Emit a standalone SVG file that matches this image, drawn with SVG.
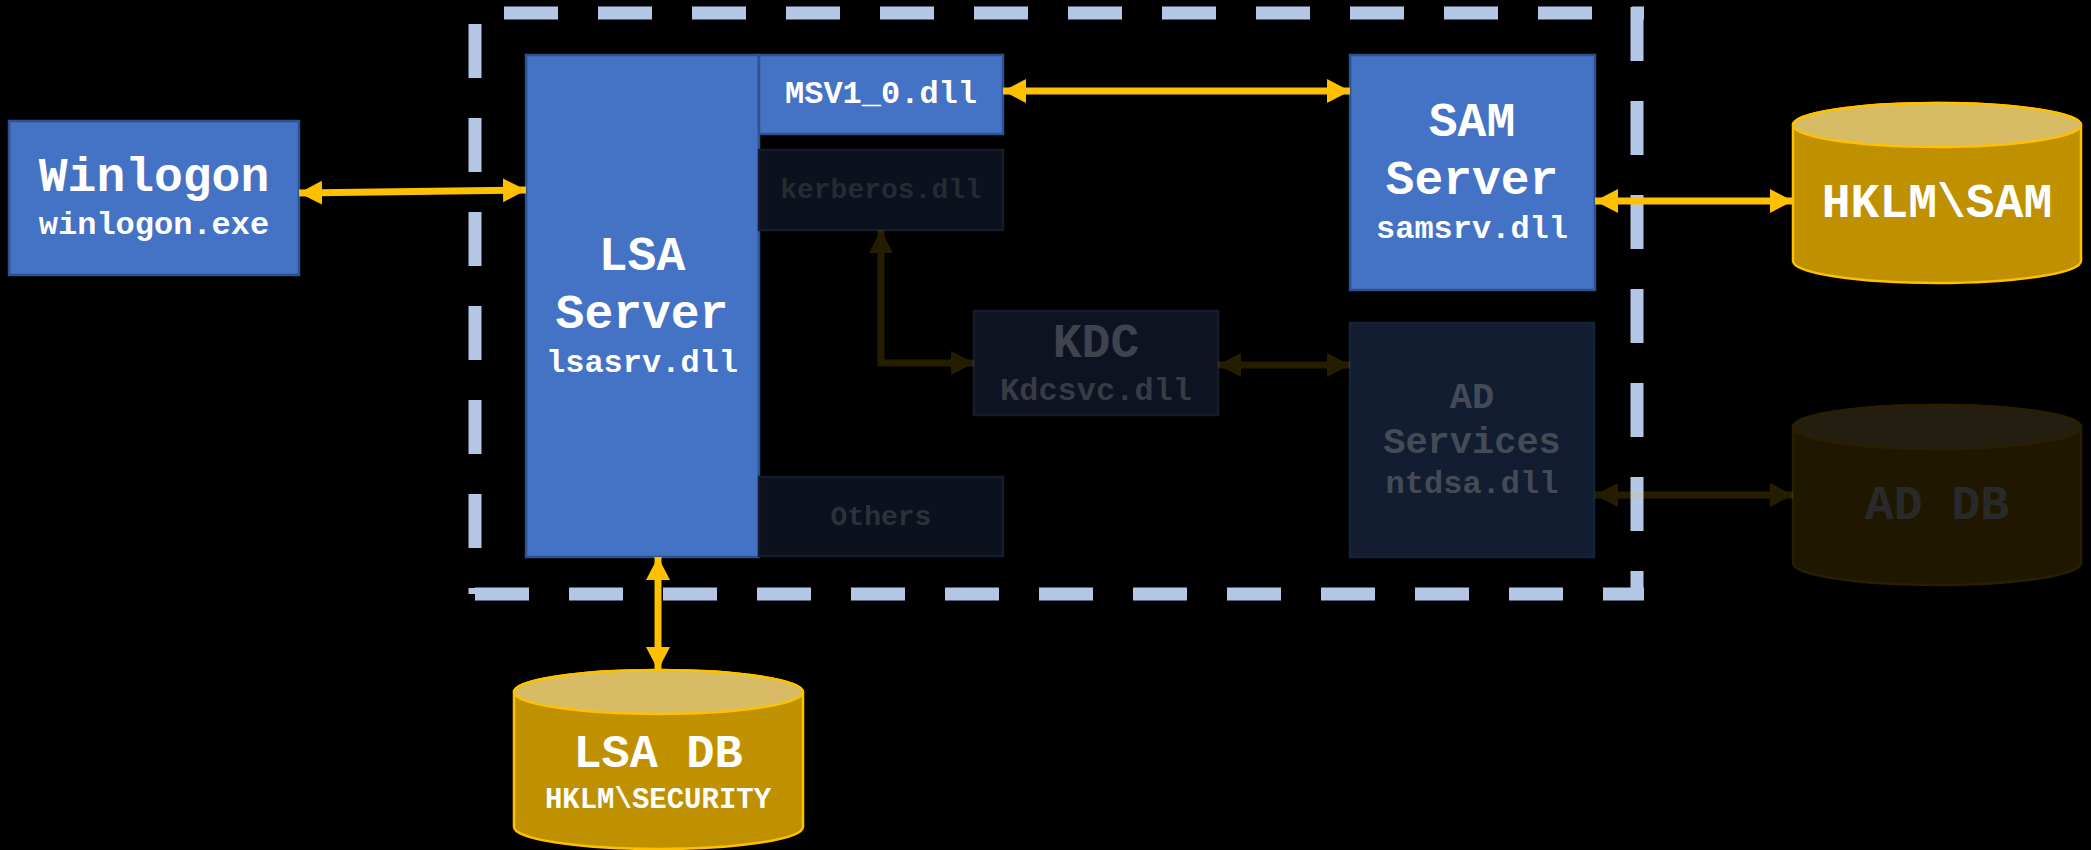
<svg xmlns="http://www.w3.org/2000/svg" width="2091" height="850" viewBox="0 0 2091 850">
<defs>
<style>
.t{font-family:"Liberation Mono","Courier New",monospace;font-weight:bold;fill:#ffffff;text-anchor:middle}
.dim{fill:#3e444e}
.blue{fill:#4472c4;stroke:#2f528f;stroke-width:2.5}
.dark{fill:#0b111d;stroke:#141c2c;stroke-width:2.5}
.border{stroke:#b4c7e7;stroke-width:13;stroke-dasharray:54 40;fill:none}
.arr{stroke:#ffc000;stroke-width:7;fill:none;marker-start:url(#ah);marker-end:url(#ah)}
.cylb{fill:#bf9000;stroke:#ffc000;stroke-width:2.5}
.cylt{fill:#d7bc65;stroke:#ffc000;stroke-width:2.5}
</style>
<marker id="ah" markerUnits="userSpaceOnUse" markerWidth="24" markerHeight="26" refX="23" refY="12" orient="auto-start-reverse" viewBox="0 0 24 24">
<path d="M0,0 L23,12 L0,24 Z" fill="#ffc000"/>
</marker>
</defs>
<rect width="2091" height="850" fill="#000000"/>

<g id="boundary">
<line class="border" x1="504" y1="13" x2="1644" y2="13"/>
<line class="border" x1="1637" y1="7" x2="1637" y2="600"/>
<line class="border" x1="475" y1="594" x2="1644" y2="594"/>
<line class="border" x1="475" y1="24" x2="475" y2="594"/>
</g>

<g id="winlogon">
<rect class="blue" x="9" y="121" width="290" height="154"/>
<text class="t" x="154" y="191" font-size="48">Winlogon</text>
<text class="t" x="154" y="234" font-size="32">winlogon.exe</text>
</g>

<g id="lsa-server">
<rect class="blue" x="526" y="55" width="233" height="502"/>
<text class="t" x="642" y="270" font-size="48">LSA</text>
<text class="t" x="642" y="328" font-size="48">Server</text>
<text class="t" x="642" y="372" font-size="32">lsasrv.dll</text>
</g>

<g id="msv">
<rect class="blue" x="759" y="55" width="244" height="79"/>
<text class="t" x="881" y="103" font-size="32">MSV1_0.dll</text>
</g>

<g id="kerberos">
<rect class="dark" x="759" y="150" width="244" height="80"/>
<text class="t dim" x="881" y="198" font-size="28" style="fill:#262b33">kerberos.dll</text>
</g>

<g id="others">
<rect class="dark" x="759" y="477" width="244" height="79"/>
<text class="t dim" x="881" y="525" font-size="28" style="fill:#2c313a">Others</text>
</g>

<g id="kdc">
<rect class="dark" x="974" y="311" width="244" height="104" style="fill:#0d1321"/>
<text class="t dim" x="1096" y="357" font-size="48">KDC</text>
<text class="t dim" x="1096" y="400" font-size="32" style="fill:#363b44">Kdcsvc.dll</text>
</g>

<g id="sam-server">
<rect class="blue" x="1350" y="55" width="245" height="235"/>
<text class="t" x="1472" y="136" font-size="48">SAM</text>
<text class="t" x="1472" y="194" font-size="48">Server</text>
<text class="t" x="1472" y="238" font-size="32">samsrv.dll</text>
</g>

<g id="ad-services">
<rect class="dark" x="1350" y="323" width="244" height="234" style="fill:#121d31;stroke:#17233a"/>
<text class="t dim" x="1472" y="408" font-size="37" style="fill:#444b57">AD</text>
<text class="t dim" x="1472" y="453" font-size="37" style="fill:#444b57">Services</text>
<text class="t dim" x="1472" y="493" font-size="32" style="fill:#444b57">ntdsa.dll</text>
</g>

<g id="hklm-sam">
<path class="cylb" d="M1793,125 A144,22 0 0 1 2081,125 V261 A144,22 0 0 1 1793,261 Z"/>
<ellipse class="cylt" cx="1937" cy="125" rx="144" ry="22"/>
<text class="t" x="1937" y="217" font-size="48">HKLM\SAM</text>
</g>

<g id="ad-db" opacity="0.16">
<path class="cylb" d="M1793,427 A144,22 0 0 1 2081,427 V563 A144,22 0 0 1 1793,563 Z"/>
<ellipse class="cylt" cx="1937" cy="427" rx="144" ry="22"/>
<text class="t" x="1937" y="519" font-size="48">AD DB</text>
</g>

<g id="lsa-db">
<path class="cylb" d="M514,692 A144.5,22 0 0 1 803,692 V827 A144.5,22 0 0 1 514,827 Z"/>
<ellipse class="cylt" cx="658.5" cy="692" rx="144.5" ry="22"/>
<text class="t" x="658" y="767" font-size="47">LSA DB</text>
<text class="t" x="658" y="808" font-size="29">HKLM\SECURITY</text>
</g>

<g id="connectors">
<line class="arr" x1="299" y1="193" x2="526" y2="190"/>
<line class="arr" x1="1003" y1="91" x2="1350" y2="91"/>
<line class="arr" x1="1595" y1="201" x2="1793" y2="201"/>
<line class="arr" x1="658" y1="557" x2="658" y2="670"/>
<g opacity="0.15">
<path class="arr" d="M881,230 V363 H974" stroke-width="8"/>
<line class="arr" x1="1218" y1="365" x2="1350" y2="365" stroke-width="8"/>
<line class="arr" x1="1595" y1="495" x2="1793" y2="495" stroke-width="8"/>
</g>
</g>
</svg>
